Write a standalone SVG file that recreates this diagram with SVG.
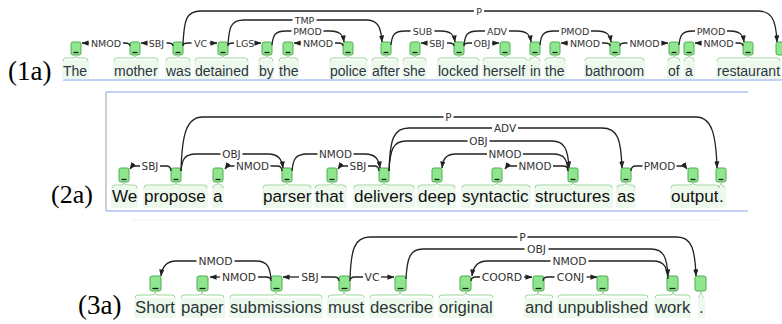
<svg xmlns="http://www.w3.org/2000/svg" width="782" height="324" viewBox="0 0 782 324">
<defs>
<marker id="ah" viewBox="0 0 8 6" refX="7.5" refY="3" markerWidth="7" markerHeight="5.5" orient="auto" markerUnits="userSpaceOnUse"><path d="M0,0 L8,3 L0,6 z" fill="#222"/></marker>
<style>
.bg{fill:#eef9ee}
.br{fill:none;stroke:#9dd79d;stroke-width:1}
.box{fill:#8fe68f;stroke:#4fae4f;stroke-width:1}
.dash{stroke:#1a1a1a;stroke-width:1.3}
.w1{font-family:"Liberation Sans",Arial,sans-serif;font-size:14px;fill:#2d3540}
.w2{font-family:"Liberation Sans",Arial,sans-serif;font-size:17.1px;fill:#111}
.w3{font-family:"Liberation Sans",Arial,sans-serif;font-size:16.7px;fill:#2a3535}
.arc{fill:none;stroke:#222;stroke-width:1.3}
.arr{marker-end:url(#ah)}
.l1{font-family:"DejaVu Sans",sans-serif;font-size:9.5px;fill:#333;text-anchor:middle}
.l2{font-family:"DejaVu Sans",sans-serif;font-size:10.4px;fill:#333;text-anchor:middle}
.l3{font-family:"DejaVu Sans",sans-serif;font-size:10.8px;fill:#333;text-anchor:middle}
.num{font-family:"Liberation Serif","Times New Roman",serif;font-size:27px;fill:#000}
.rule{stroke:#8aa4ef;stroke-width:1.2}
</style>
</defs>
<rect width="782" height="324" fill="#fff"/>

<!-- panel labels and frames -->
<text class="num" x="8" y="79.5">(1a)</text>
<text class="num" x="51" y="203" style="font-size:26px">(2a)</text>
<text class="num" x="78" y="314">(3a)</text>
<line class="rule" x1="63" y1="80" x2="782" y2="80"/>
<line class="rule" x1="106" y1="92" x2="748" y2="92"/>
<line class="rule" x1="106" y1="211" x2="748" y2="211"/>
<line x1="106" y1="92" x2="106" y2="211" stroke="#a8b0c0" stroke-width="1.2"/>
<line x1="132" y1="220" x2="720" y2="220" stroke="#f2f2f2" stroke-width="1"/>

<!-- ===== Panel 1 nodes ===== -->
<g id="p1-The"><rect class="bg" x="62" y="60" width="27" height="19" rx="2"/><path class="br" d="M63,61 Q63,58 66,58 L73,58 Q76,58 76,56 Q76,58 79,58 L85,58 Q88,58 88,61"/><rect class="box" x="71" y="42" width="10" height="13" rx="2"/><line class="dash" x1="73.5" y1="52.5" x2="78.5" y2="52.5"/><text class="w1" x="63" y="76">The</text></g>
<g id="p1-mother"><rect class="bg" x="113" y="60" width="46" height="19" rx="2"/><path class="br" d="M114,61 Q114,58 117,58 L132,58 Q135,58 135,56 Q135,58 138,58 L155,58 Q158,58 158,61"/><rect class="box" x="130" y="42" width="10" height="13" rx="2"/><line class="dash" x1="132.5" y1="52.5" x2="137.5" y2="52.5"/><text class="w1" x="114" y="76">mother</text></g>
<g id="p1-was"><rect class="bg" x="165" y="60" width="26" height="19" rx="2"/><path class="br" d="M166,61 Q166,58 169,58 L175,58 Q178,58 178,56 Q178,58 181,58 L187,58 Q190,58 190,61"/><rect class="box" x="173" y="42" width="10" height="13" rx="2"/><line class="dash" x1="175.5" y1="52.5" x2="180.5" y2="52.5"/><text class="w1" x="166" y="76">was</text></g>
<g id="p1-detained"><rect class="bg" x="194" y="60" width="55" height="19" rx="2"/><path class="br" d="M195,61 Q195,58 198,58 L220,58 Q223,58 223,56 Q223,58 226,58 L245,58 Q248,58 248,61"/><rect class="box" x="218" y="42" width="10" height="13" rx="2"/><line class="dash" x1="220.5" y1="52.5" x2="225.5" y2="52.5"/><text class="w1" x="195" y="76">detained</text></g>
<g id="p1-by"><rect class="bg" x="258" y="60" width="16" height="19" rx="2"/><path class="br" d="M259,61 Q259,58 262,58 L264,58 Q267,58 267,56 Q267,58 270,58 L270,58 Q273,58 273,61"/><rect class="box" x="262" y="42" width="10" height="13" rx="2"/><line class="dash" x1="264.5" y1="52.5" x2="269.5" y2="52.5"/><text class="w1" x="259" y="76">by</text></g>
<g id="p1-the1"><rect class="bg" x="278" y="60" width="21" height="19" rx="2"/><path class="br" d="M279,61 Q279,58 282,58 L285,58 Q288,58 288,56 Q288,58 291,58 L295,58 Q298,58 298,61"/><rect class="box" x="283" y="42" width="10" height="13" rx="2"/><line class="dash" x1="285.5" y1="52.5" x2="290.5" y2="52.5"/><text class="w1" x="279" y="76">the</text></g>
<g id="p1-police"><rect class="bg" x="329" y="60" width="39" height="19" rx="2"/><path class="br" d="M330,61 Q330,58 333,58 L345,58 Q348,58 348,56 Q348,58 351,58 L364,58 Q367,58 367,61"/><rect class="box" x="343" y="42" width="10" height="13" rx="2"/><line class="dash" x1="345.5" y1="52.5" x2="350.5" y2="52.5"/><text class="w1" x="330" y="76">police</text></g>
<g id="p1-after"><rect class="bg" x="371" y="60" width="28" height="19" rx="2"/><path class="br" d="M372,61 Q372,58 375,58 L383,58 Q386,58 386,56 Q386,58 389,58 L395,58 Q398,58 398,61"/><rect class="box" x="381" y="42" width="10" height="13" rx="2"/><line class="dash" x1="383.5" y1="52.5" x2="388.5" y2="52.5"/><text class="w1" x="372" y="76">after</text></g>
<g id="p1-she"><rect class="bg" x="402" y="60" width="25" height="19" rx="2"/><path class="br" d="M403,61 Q403,58 406,58 L412,58 Q415,58 415,56 Q415,58 418,58 L423,58 Q426,58 426,61"/><rect class="box" x="410" y="42" width="10" height="13" rx="2"/><line class="dash" x1="412.5" y1="52.5" x2="417.5" y2="52.5"/><text class="w1" x="403" y="76">she</text></g>
<g id="p1-locked"><rect class="bg" x="437" y="60" width="43" height="19" rx="2"/><path class="br" d="M438,61 Q438,58 441,58 L456,58 Q459,58 459,56 Q459,58 462,58 L476,58 Q479,58 479,61"/><rect class="box" x="454" y="42" width="10" height="13" rx="2"/><line class="dash" x1="456.5" y1="52.5" x2="461.5" y2="52.5"/><text class="w1" x="438" y="76">locked</text></g>
<g id="p1-herself"><rect class="bg" x="482" y="60" width="46" height="19" rx="2"/><path class="br" d="M483,61 Q483,58 486,58 L502,58 Q505,58 505,56 Q505,58 508,58 L524,58 Q527,58 527,61"/><rect class="box" x="500" y="42" width="10" height="13" rx="2"/><line class="dash" x1="502.5" y1="52.5" x2="507.5" y2="52.5"/><text class="w1" x="483" y="76">herself</text></g>
<g id="p1-in"><rect class="bg" x="528" y="60" width="13" height="19" rx="2"/><path class="br" d="M529,61 Q529,58 532,58 L532,58 Q535,58 535,56 Q535,58 538,58 L538,58 Q540,58 540,61"/><rect class="box" x="530" y="42" width="10" height="13" rx="2"/><line class="dash" x1="532.5" y1="52.5" x2="537.5" y2="52.5"/><text class="w1" x="530" y="76">in</text></g>
<g id="p1-the2"><rect class="bg" x="544" y="60" width="22" height="19" rx="2"/><path class="br" d="M545,61 Q545,58 548,58 L552,58 Q555,58 555,56 Q555,58 558,58 L562,58 Q565,58 565,61"/><rect class="box" x="550" y="42" width="10" height="13" rx="2"/><line class="dash" x1="552.5" y1="52.5" x2="557.5" y2="52.5"/><text class="w1" x="545" y="76">the</text></g>
<g id="p1-bathroom"><rect class="bg" x="584" y="60" width="61" height="19" rx="2"/><path class="br" d="M585,61 Q585,58 588,58 L612,58 Q615,58 615,56 Q615,58 618,58 L641,58 Q644,58 644,61"/><rect class="box" x="610" y="42" width="10" height="13" rx="2"/><line class="dash" x1="612.5" y1="52.5" x2="617.5" y2="52.5"/><text class="w1" x="585" y="76">bathroom</text></g>
<g id="p1-of"><rect class="bg" x="667" y="60" width="14" height="19" rx="2"/><path class="br" d="M668,61 Q668,58 671,58 L671,58 Q674,58 674,56 Q674,58 677,58 L677,58 Q680,58 680,61"/><rect class="box" x="669" y="42" width="10" height="13" rx="2"/><line class="dash" x1="671.5" y1="52.5" x2="676.5" y2="52.5"/><text class="w1" x="668" y="76">of</text></g>
<g id="p1-a"><rect class="bg" x="683" y="60" width="12" height="19" rx="2"/><path class="br" d="M684,61 Q684,58 686,58 L686,58 Q689,58 689,56 Q689,58 692,58 L692,58 Q694,58 694,61"/><rect class="box" x="684" y="42" width="10" height="13" rx="2"/><line class="dash" x1="686.5" y1="52.5" x2="691.5" y2="52.5"/><text class="w1" x="685" y="76">a</text></g>
<g id="p1-restaurant"><rect class="bg" x="716" y="60" width="65" height="19" rx="2"/><path class="br" d="M717,61 Q717,58 720,58 L745,58 Q748,58 748,56 Q748,58 751,58 L777,58 Q780,58 780,61"/><rect class="box" x="743" y="42" width="10" height="13" rx="2"/><line class="dash" x1="745.5" y1="52.5" x2="750.5" y2="52.5"/><text class="w1" x="717" y="76">restaurant</text></g>
<g id="p1-period"><rect class="box" x="776" y="42" width="10" height="13" rx="2"/></g>

<!-- ===== Panel 2 nodes ===== -->
<g id="p2-We"><rect class="bg" x="111" y="186" width="27" height="22" rx="2"/><path class="br" d="M112,188 Q112,185 115,185 L121,185 Q124,185 124,183 Q124,185 127,185 L134,185 Q137,185 137,188"/><rect class="box" x="119" y="168" width="10" height="14" rx="2"/><line class="dash" x1="121.5" y1="179.5" x2="126.5" y2="179.5"/><text class="w2" x="112" y="202">We</text></g>
<g id="p2-propose"><rect class="bg" x="143" y="186" width="65" height="22" rx="2"/><path class="br" d="M144,188 Q144,185 147,185 L173,185 Q176,185 176,183 Q176,185 179,185 L204,185 Q207,185 207,188"/><rect class="box" x="171" y="168" width="10" height="14" rx="2"/><line class="dash" x1="173.5" y1="179.5" x2="178.5" y2="179.5"/><text class="w2" x="144" y="202">propose</text></g>
<g id="p2-a"><rect class="bg" x="212" y="186" width="12" height="22" rx="2"/><path class="br" d="M213,188 Q213,185 215,185 L215,185 Q218,185 218,183 Q218,185 221,185 L221,185 Q223,185 223,188"/><rect class="box" x="213" y="168" width="10" height="14" rx="2"/><line class="dash" x1="215.5" y1="179.5" x2="220.5" y2="179.5"/><text class="w2" x="213" y="202">a</text></g>
<g id="p2-parser"><rect class="bg" x="262" y="186" width="50" height="22" rx="2"/><path class="br" d="M263,188 Q263,185 266,185 L284,185 Q287,185 287,183 Q287,185 290,185 L308,185 Q311,185 311,188"/><rect class="box" x="282" y="168" width="10" height="14" rx="2"/><line class="dash" x1="284.5" y1="179.5" x2="289.5" y2="179.5"/><text class="w2" x="263" y="202">parser</text></g>
<g id="p2-that"><rect class="bg" x="314" y="186" width="33" height="22" rx="2"/><path class="br" d="M315,188 Q315,185 318,185 L329,185 Q332,185 332,183 Q332,185 335,185 L343,185 Q346,185 346,188"/><rect class="box" x="327" y="168" width="10" height="14" rx="2"/><line class="dash" x1="329.5" y1="179.5" x2="334.5" y2="179.5"/><text class="w2" x="315" y="202">that</text></g>
<g id="p2-delivers"><rect class="bg" x="353" y="186" width="62" height="22" rx="2"/><path class="br" d="M354,188 Q354,185 357,185 L381,185 Q384,185 384,183 Q384,185 387,185 L411,185 Q414,185 414,188"/><rect class="box" x="379" y="168" width="10" height="14" rx="2"/><line class="dash" x1="381.5" y1="179.5" x2="386.5" y2="179.5"/><text class="w2" x="354" y="202">delivers</text></g>
<g id="p2-deep"><rect class="bg" x="417" y="186" width="39" height="22" rx="2"/><path class="br" d="M418,188 Q418,185 421,185 L434,185 Q437,185 437,183 Q437,185 440,185 L452,185 Q455,185 455,188"/><rect class="box" x="432" y="168" width="10" height="14" rx="2"/><line class="dash" x1="434.5" y1="179.5" x2="439.5" y2="179.5"/><text class="w2" x="418" y="202">deep</text></g>
<g id="p2-syntactic"><rect class="bg" x="461" y="186" width="70" height="22" rx="2"/><path class="br" d="M462,188 Q462,185 465,185 L494,185 Q497,185 497,183 Q497,185 500,185 L527,185 Q530,185 530,188"/><rect class="box" x="492" y="168" width="10" height="14" rx="2"/><line class="dash" x1="494.5" y1="179.5" x2="499.5" y2="179.5"/><text class="w2" x="462" y="202">syntactic</text></g>
<g id="p2-structures"><rect class="bg" x="534" y="186" width="79" height="22" rx="2"/><path class="br" d="M535,188 Q535,185 538,185 L570,185 Q573,185 573,183 Q573,185 576,185 L609,185 Q612,185 612,188"/><rect class="box" x="568" y="168" width="10" height="14" rx="2"/><line class="dash" x1="570.5" y1="179.5" x2="575.5" y2="179.5"/><text class="w2" x="535" y="202">structures</text></g>
<g id="p2-as"><rect class="bg" x="616" y="186" width="20" height="22" rx="2"/><path class="br" d="M617,188 Q617,185 620,185 L623,185 Q626,185 626,183 Q626,185 629,185 L632,185 Q635,185 635,188"/><rect class="box" x="621" y="168" width="10" height="14" rx="2"/><line class="dash" x1="623.5" y1="179.5" x2="628.5" y2="179.5"/><text class="w2" x="617" y="202">as</text></g>
<g id="p2-output"><rect class="bg" x="670" y="186" width="50" height="22" rx="2"/><path class="br" d="M671,188 Q671,185 674,185 L690,185 Q693,185 693,183 Q693,185 696,185 L716,185 Q719,185 719,188"/><rect class="box" x="688" y="168" width="10" height="14" rx="2"/><line class="dash" x1="690.5" y1="179.5" x2="695.5" y2="179.5"/><text class="w2" x="671" y="202">output</text></g>
<g id="p2-period"><rect class="bg" x="719" y="186" width="7" height="22" rx="2"/><path class="br" d="M719,188 Q719,185 720,185 Q721,185 721,183 Q721,185 722,185 Q724,185 724,188"/><rect class="box" x="716" y="168" width="10" height="14" rx="2"/><line class="dash" x1="718.5" y1="179.5" x2="723.5" y2="179.5"/><text class="w2" x="719" y="202">.</text></g>

<!-- ===== Panel 3 nodes ===== -->
<g id="p3-Short"><rect class="bg" x="134" y="298" width="42" height="20" rx="2"/><path class="br" d="M135,298 Q135,295 138,295 L152,295 Q155,295 155,292 Q155,295 158,295 L172,295 Q175,295 175,298"/><rect class="box" x="150" y="276" width="11" height="15" rx="2"/><line class="dash" x1="152.5" y1="288.5" x2="158.5" y2="288.5"/><text class="w3" x="135" y="313">Short</text></g>
<g id="p3-paper"><rect class="bg" x="180" y="298" width="45" height="20" rx="2"/><path class="br" d="M181,298 Q181,295 184,295 L199,295 Q202,295 202,292 Q202,295 205,295 L221,295 Q224,295 224,298"/><rect class="box" x="197" y="276" width="11" height="15" rx="2"/><line class="dash" x1="199.5" y1="288.5" x2="205.5" y2="288.5"/><text class="w3" x="181" y="313">paper</text></g>
<g id="p3-submissions"><rect class="bg" x="229" y="298" width="94" height="20" rx="2"/><path class="br" d="M230,298 Q230,295 233,295 L273,295 Q276,295 276,292 Q276,295 279,295 L319,295 Q322,295 322,298"/><rect class="box" x="271" y="276" width="11" height="15" rx="2"/><line class="dash" x1="273.5" y1="288.5" x2="279.5" y2="288.5"/><text class="w3" x="230" y="313">submissions</text></g>
<g id="p3-must"><rect class="bg" x="327" y="298" width="38" height="20" rx="2"/><path class="br" d="M328,298 Q328,295 331,295 L341,295 Q344,295 344,292 Q344,295 347,295 L361,295 Q364,295 364,298"/><rect class="box" x="339" y="276" width="11" height="15" rx="2"/><line class="dash" x1="341.5" y1="288.5" x2="347.5" y2="288.5"/><text class="w3" x="328" y="313">must</text></g>
<g id="p3-describe"><rect class="bg" x="369" y="298" width="65" height="20" rx="2"/><path class="br" d="M370,298 Q370,295 373,295 L397,295 Q400,295 400,292 Q400,295 403,295 L430,295 Q433,295 433,298"/><rect class="box" x="395" y="276" width="11" height="15" rx="2"/><line class="dash" x1="397.5" y1="288.5" x2="403.5" y2="288.5"/><text class="w3" x="370" y="313">describe</text></g>
<g id="p3-original"><rect class="bg" x="438" y="298" width="56" height="20" rx="2"/><path class="br" d="M439,298 Q439,295 442,295 L463,295 Q466,295 466,292 Q466,295 469,295 L490,295 Q493,295 493,298"/><rect class="box" x="460" y="276" width="11" height="15" rx="2"/><line class="dash" x1="462.5" y1="288.5" x2="468.5" y2="288.5"/><text class="w3" x="439" y="313">original</text></g>
<g id="p3-and"><rect class="bg" x="524" y="298" width="30" height="20" rx="2"/><path class="br" d="M525,298 Q525,295 528,295 L535,295 Q538,295 538,292 Q538,295 541,295 L550,295 Q553,295 553,298"/><rect class="box" x="533" y="276" width="11" height="15" rx="2"/><line class="dash" x1="535.5" y1="288.5" x2="541.5" y2="288.5"/><text class="w3" x="525" y="313">and</text></g>
<g id="p3-unpublished"><rect class="bg" x="557" y="298" width="92" height="20" rx="2"/><path class="br" d="M558,298 Q558,295 561,295 L600,295 Q603,295 603,292 Q603,295 606,295 L645,295 Q648,295 648,298"/><rect class="box" x="597" y="276" width="11" height="15" rx="2"/><line class="dash" x1="599.5" y1="288.5" x2="605.5" y2="288.5"/><text class="w3" x="558" y="313">unpublished</text></g>
<g id="p3-work"><rect class="bg" x="654" y="298" width="37" height="20" rx="2"/><path class="br" d="M655,298 Q655,295 658,295 L670,295 Q673,295 673,292 Q673,295 676,295 L687,295 Q690,295 690,298"/><rect class="box" x="667" y="276" width="11" height="15" rx="2"/><line class="dash" x1="669.5" y1="288.5" x2="675.5" y2="288.5"/><text class="w3" x="655" y="313">work</text></g>
<g id="p3-period"><rect class="bg" x="698" y="298" width="7" height="20" rx="2"/><path class="br" d="M699,298 Q699,295 700,295 Q701,295 701,292 Q701,295 702,295 Q703,295 703,298"/><rect class="box" x="695" y="276" width="11" height="15" rx="2"/><text class="w3" x="699" y="313">.</text></g>

<!-- ===== Connectors ===== -->
<g id="connectors">
<!-- Panel 1 -->
<path class="arc" d="M183,45 C184,20 186,11 201,11 L474,11"/><path class="arc arr" d="M484,11 L758,11 C772,11 776,20 777,42"/>
<path class="arc" d="M228,45 C229,27 231,20 244,20 L292.5,20"/><path class="arc arr" d="M316.5,20 L366,20 C378,20 381,27 382,42"/>
<path class="arc" d="M272,45 C273,35 275,31 286,31 L291.5,31"/><path class="arc arr" d="M323.5,31 L330,31 C340,31 343,35 344,42"/>
<path class="arc" d="M391,45 C392,35 394,31 405,31 L410.5,31"/><path class="arc arr" d="M434.5,31 L441,31 C451,31 454,35 455,42"/>
<path class="arc" d="M464,45 C465,35 467,31 478,31 L485,31"/><path class="arc arr" d="M509,31 L517,31 C527,31 530,35 531,42"/>
<path class="arc" d="M540,45 C541,35 543,31 554,31 L559,31"/><path class="arc arr" d="M591,31 L597,31 C607,31 610,35 611,42"/>
<path class="arc" d="M679,45 C680,35 682,31 693,31 L695,31"/><path class="arc arr" d="M727,31 L730,31 C740,31 743,35 744,42"/>
<path class="arc" d="M130,46 Q130,43 125,43 L123,43"/><path class="arc arr" d="M89,43 L82,43"/>
<path class="arc" d="M173,46 Q173,43 168,43 L166.5,43"/><path class="arc arr" d="M146.5,43 L141,43"/>
<path class="arc" d="M183,46 Q183,43 188,43 L191.5,43"/><path class="arc arr" d="M209.5,43 L217,43"/>
<path class="arc" d="M228,46 Q228,43 233,43 L234,43"/><path class="arc arr" d="M256,43 L261,43"/>
<path class="arc" d="M343,46 Q343,43 338,43 L335,43"/><path class="arc arr" d="M301,43 L294,43"/>
<path class="arc" d="M454,46 Q454,43 449,43 L447,43"/><path class="arc arr" d="M427,43 L421,43"/>
<path class="arc" d="M464,46 Q464,43 469,43 L472,43"/><path class="arc arr" d="M492,43 L499,43"/>
<path class="arc" d="M610,46 Q610,43 605,43 L602,43"/><path class="arc arr" d="M568,43 L561,43"/>
<path class="arc" d="M620,46 Q620,43 625,43 L627.5,43"/><path class="arc arr" d="M661.5,43 L668,43"/>
<path class="arc" d="M743,46 Q743,43 738,43 L735.5,43"/><path class="arc arr" d="M701.5,43 L695,43"/>
<text class="l1" x="479" y="14.5">P</text>
<text class="l1" x="304.5" y="23.5">TMP</text>
<text class="l1" x="307.5" y="34.5">PMOD</text>
<text class="l1" x="422.5" y="34.5">SUB</text>
<text class="l1" x="497" y="34.5">ADV</text>
<text class="l1" x="575" y="34.5">PMOD</text>
<text class="l1" x="711" y="34.5">PMOD</text>
<text class="l1" x="106" y="46.5">NMOD</text>
<text class="l1" x="156.5" y="46.5">SBJ</text>
<text class="l1" x="200.5" y="46.5">VC</text>
<text class="l1" x="245" y="46.5">LGS</text>
<text class="l1" x="318" y="46.5">NMOD</text>
<text class="l1" x="437" y="46.5">SBJ</text>
<text class="l1" x="482" y="46.5">OBJ</text>
<text class="l1" x="585" y="46.5">NMOD</text>
<text class="l1" x="644.5" y="46.5">NMOD</text>
<text class="l1" x="718.5" y="46.5">NMOD</text>

<!-- Panel 2 -->
<path class="arc" d="M181,171 C182,135 186,117 203,117 L443.5,117"/><path class="arc arr" d="M453.5,117 L696,117 C712,117 716,135 717,168"/>
<path class="arc" d="M389,171 C390,140 393,128 409,128 L492,128"/><path class="arc arr" d="M518,128 L602,128 C618,128 621,140 622,168"/>
<path class="arc" d="M389,171 C390,150 393,141 406,141 L467.5,141"/><path class="arc arr" d="M489.5,141 L552,141 C565,141 568,150 569,168"/>
<path class="arc" d="M181,171 C182,160 184,154 196,154 L220.5,154"/><path class="arc arr" d="M242.5,154 L268,154 C279,154 282,160 283,168"/>
<path class="arc" d="M292,171 C293,160 295,154 307,154 L317.5,154"/><path class="arc arr" d="M353.5,154 L365,154 C376,154 379,160 380,168"/>
<path class="arc" d="M568,171 C567,160 565,154 553,154 L523,154"/><path class="arc arr" d="M487,154 L456,154 C445,154 443,160 442,168"/>
<path class="arc" d="M171,171 Q171,166 166,166 L160,166"/><path class="arc arr" d="M140,166 L135,166 Q132,166 130,169"/>
<path class="arc" d="M282,171 Q282,166 277,166 L270.5,166"/><path class="arc arr" d="M234.5,166 L230,166 Q227,166 225,169"/>
<path class="arc" d="M379,171 Q379,166 374,166 L368,166"/><path class="arc arr" d="M348,166 L343,166 Q340,166 338,169"/>
<path class="arc" d="M568,171 Q568,166 563,166 L553,166"/><path class="arc arr" d="M517,166 L510,166 Q507,166 505,169"/>
<path class="arc" d="M631,171 Q631,166 636,166 L642.5,166"/><path class="arc arr" d="M676.5,166 L682,166 Q685,166 687,169"/>
<text class="l2" x="448.5" y="120.7">P</text>
<text class="l2" x="505" y="131.7">ADV</text>
<text class="l2" x="478.5" y="144.7">OBJ</text>
<text class="l2" x="231.5" y="157.7">OBJ</text>
<text class="l2" x="335.5" y="157.7">NMOD</text>
<text class="l2" x="505" y="157.7">NMOD</text>
<text class="l2" x="150" y="169.7">SBJ</text>
<text class="l2" x="252.5" y="169.7">NMOD</text>
<text class="l2" x="358" y="169.7">SBJ</text>
<text class="l2" x="535" y="169.7">NMOD</text>
<text class="l2" x="659.5" y="169.7">PMOD</text>

<!-- Panel 3 -->
<path class="arc" d="M350,279 C351,250 354,237 370,237 L517.5,237"/><path class="arc arr" d="M527.5,237 L677,237 C692,237 695,250 696,276"/>
<path class="arc" d="M406,279 C407,258 410,249 423,249 L524.5,249"/><path class="arc arr" d="M548.5,249 L651,249 C664,249 667,258 668,276"/>
<path class="arc" d="M668,279 C667,268 665,261 653,261 L588.5,261"/><path class="arc arr" d="M550.5,261 L487,261 C476,261 473,268 472,276"/>
<path class="arc" d="M271,279 C270,268 268,261 256,261 L234.5,261"/><path class="arc arr" d="M196.5,261 L176,261 C165,261 162,268 161,276"/>
<path class="arc" d="M271,281 Q271,277 266,277 L258,277"/><path class="arc arr" d="M220,277 L210,277"/>
<path class="arc" d="M339,281 Q339,277 334,277 L321,277"/><path class="arc arr" d="M299,277 L283,277"/>
<path class="arc" d="M350,281 Q350,277 355,277 L363,277"/><path class="arc arr" d="M381,277 L394,277"/>
<path class="arc" d="M471,281 Q471,277 476,277 L480,277"/><path class="arc arr" d="M524,277 L532,277"/>
<path class="arc" d="M543,281 Q543,277 548,277 L554.5,277"/><path class="arc arr" d="M586.5,277 L597,277"/>
<text class="l3" x="522.5" y="240.8">P</text>
<text class="l3" x="536.5" y="252.8">OBJ</text>
<text class="l3" x="569.5" y="264.8">NMOD</text>
<text class="l3" x="215.5" y="264.8">NMOD</text>
<text class="l3" x="239" y="280.8">NMOD</text>
<text class="l3" x="310" y="280.8">SBJ</text>
<text class="l3" x="372" y="280.8">VC</text>
<text class="l3" x="502" y="280.8">COORD</text>
<text class="l3" x="570.5" y="280.8">CONJ</text>
</g>
</svg>
